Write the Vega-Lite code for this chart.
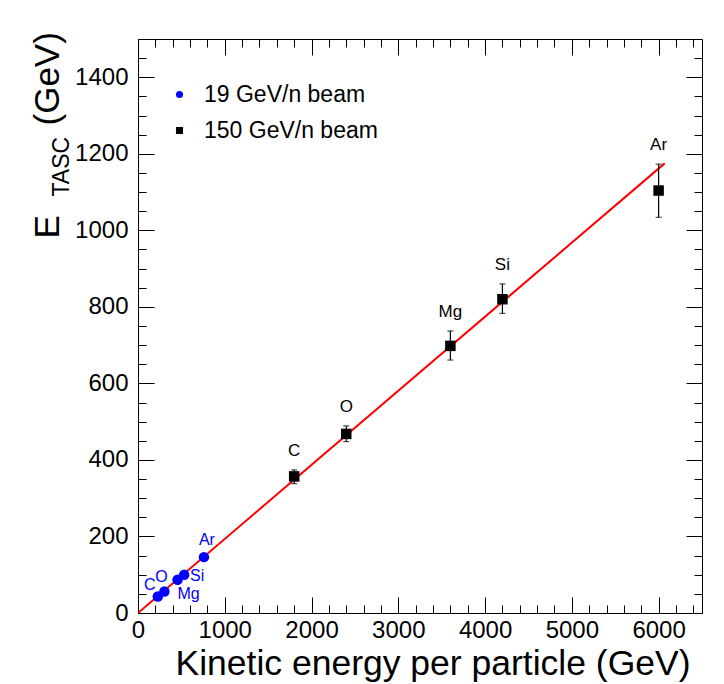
{
  "$schema": "https://vega.github.io/schema/vega-lite/v6.json",
  "width": 564,
  "height": 574,
  "autosize": "none",
  "padding": {"left": 138, "top": 39, "right": 22, "bottom": 71},
  "background": "#ffffff",
  "datasets": {
    "fit": [
      {"energy": 0, "etasc": 0},
      {"energy": 6070, "etasc": 1175}
    ],
    "beams": [
      {"beam": "19 GeV/n beam", "element": "C", "energy": 228, "etasc": 43, "low": null, "high": null},
      {"beam": "19 GeV/n beam", "element": "O", "energy": 304, "etasc": 56, "low": null, "high": null},
      {"beam": "19 GeV/n beam", "element": "Mg", "energy": 456, "etasc": 87, "low": null, "high": null},
      {"beam": "19 GeV/n beam", "element": "Si", "energy": 532, "etasc": 100, "low": null, "high": null},
      {"beam": "19 GeV/n beam", "element": "Ar", "energy": 760, "etasc": 146, "low": null, "high": null},
      {"beam": "150 GeV/n beam", "element": "C", "energy": 1800, "etasc": 357, "low": 338, "high": 374},
      {"beam": "150 GeV/n beam", "element": "O", "energy": 2400, "etasc": 468, "low": 448, "high": 489},
      {"beam": "150 GeV/n beam", "element": "Mg", "energy": 3600, "etasc": 698, "low": 661, "high": 737},
      {"beam": "150 GeV/n beam", "element": "Si", "energy": 4200, "etasc": 820, "low": 783, "high": 860},
      {"beam": "150 GeV/n beam", "element": "Ar", "energy": 6000, "etasc": 1104, "low": 1034, "high": 1173}
    ]
  },
  "layer": [
    {
      "data": {"name": "fit"},
      "mark": {"type": "line", "color": "#ff0000", "strokeWidth": 2, "clip": true},
      "encoding": {
        "x": {"field": "energy", "type": "quantitative", "scale": {"domain": [0, 6500], "nice": false, "zero": false},
          "axis": {"orient": "bottom", "values": [0, 1000, 2000, 3000, 4000, 5000, 6000], "format": "d", "ticks": false,
            "labelFontSize": 24, "labelPadding": 5, "labelOverlap": false, "labelFlush": false,
            "title": "Kinetic energy per particle (GeV)", "titleFontSize": 35.5, "titleX": 552, "titleY": 61,
            "titleAlign": "right", "titleBaseline": "alphabetic"}},
        "y": {"field": "etasc", "type": "quantitative", "scale": {"domain": [0, 1500], "nice": false, "zero": false},
          "axis": {"orient": "left", "values": [0, 200, 400, 600, 800, 1000, 1200, 1400], "format": "d", "ticks": false,
            "labelFontSize": 24, "labelPadding": 10, "labelOverlap": false, "labelFlush": false,
            "title": "E", "titleFontSize": 35, "titleAngle": -90, "titleX": -80, "titleY": 199,
            "titleAlign": "left", "titleBaseline": "alphabetic"}}
      }
    },
    {
      "data": {"name": "beams"},
      "transform": [{"filter": "datum.low != null"}],
      "mark": {"type": "rule", "color": "#000000", "strokeWidth": 1.2},
      "encoding": {
        "x": {"field": "energy", "type": "quantitative",
          "axis": {"orient": "bottom", "values": [0, 1000, 2000, 3000, 4000, 5000, 6000], "labels": false, "tickSize": -16, "tickWidth": 1, "title": null}},
        "y": {"field": "low", "type": "quantitative",
          "axis": {"orient": "left", "values": [0, 200, 400, 600, 800, 1000, 1200, 1400], "labels": false, "tickSize": -16, "tickWidth": 1, "title": null}},
        "y2": {"field": "high"}
      }
    },
    {
      "data": {"name": "beams"},
      "transform": [{"filter": "datum.low != null"}],
      "mark": {"type": "tick", "orient": "horizontal", "color": "#000000", "size": 6, "thickness": 1.2},
      "encoding": {
        "x": {"field": "energy", "type": "quantitative",
          "axis": {"orient": "bottom", "values": [0, 200, 400, 600, 800, 1000, 1200, 1400, 1600, 1800, 2000, 2200, 2400, 2600, 2800, 3000, 3200, 3400, 3600, 3800, 4000, 4200, 4400, 4600, 4800, 5000, 5200, 5400, 5600, 5800, 6000, 6200, 6400], "labels": false, "tickSize": -8, "tickWidth": 1, "title": null}},
        "y": {"field": "high", "type": "quantitative",
          "axis": {"orient": "left", "values": [0, 50, 100, 150, 200, 250, 300, 350, 400, 450, 500, 550, 600, 650, 700, 750, 800, 850, 900, 950, 1000, 1050, 1100, 1150, 1200, 1250, 1300, 1350, 1400, 1450], "labels": false, "tickSize": -8, "tickWidth": 1, "title": null}}
      }
    },
    {
      "data": {"name": "beams"},
      "transform": [{"filter": "datum.low != null"}],
      "mark": {"type": "tick", "orient": "horizontal", "color": "#000000", "size": 6, "thickness": 1.2},
      "encoding": {
        "x": {"field": "energy", "type": "quantitative",
          "axis": {"orient": "top", "values": [0, 1000, 2000, 3000, 4000, 5000, 6000], "labels": false, "tickSize": -16, "tickWidth": 1, "title": null}},
        "y": {"field": "low", "type": "quantitative",
          "axis": {"orient": "right", "values": [0, 200, 400, 600, 800, 1000, 1200, 1400], "labels": false, "tickSize": -16, "tickWidth": 1, "title": null}}
      }
    },
    {
      "data": {"name": "beams"},
      "mark": {"type": "point", "filled": true, "opacity": 1, "size": 110},
      "encoding": {
        "x": {"field": "energy", "type": "quantitative",
          "axis": {"orient": "top", "values": [0, 200, 400, 600, 800, 1000, 1200, 1400, 1600, 1800, 2000, 2200, 2400, 2600, 2800, 3000, 3200, 3400, 3600, 3800, 4000, 4200, 4400, 4600, 4800, 5000, 5200, 5400, 5600, 5800, 6000, 6200, 6400], "labels": false, "tickSize": -8, "tickWidth": 1, "title": null}},
        "y": {"field": "etasc", "type": "quantitative",
          "axis": {"orient": "right", "values": [0, 50, 100, 150, 200, 250, 300, 350, 400, 450, 500, 550, 600, 650, 700, 750, 800, 850, 900, 950, 1000, 1050, 1100, 1150, 1200, 1250, 1300, 1350, 1400, 1450], "labels": false, "tickSize": -8, "tickWidth": 1, "title": null}},
        "color": {"field": "beam", "type": "nominal", "title": null,
          "scale": {"domain": ["19 GeV/n beam", "150 GeV/n beam"], "range": ["#0000ff", "#000000"]}},
        "shape": {"field": "beam", "type": "nominal", "title": null,
          "scale": {"domain": ["19 GeV/n beam", "150 GeV/n beam"], "range": ["circle", "square"]}}
      }
    },
    {
      "data": {"name": "beams"},
      "transform": [{"filter": "datum.beam == '150 GeV/n beam'"}],
      "mark": {"type": "text", "color": "#000000", "fontSize": 17, "align": "center", "baseline": "middle", "dy": -19},
      "encoding": {
        "x": {"field": "energy", "type": "quantitative", "axis": null},
        "y": {"field": "high", "type": "quantitative",
          "axis": {"orient": "left", "labels": false, "ticks": false, "title": "TASC", "titleFontSize": 23,
            "titleAngle": -90, "titleX": -70, "titleY": 157, "titleAlign": "left", "titleBaseline": "alphabetic"}},
        "text": {"field": "element"}
      }
    },
    {
      "data": {"name": "beams"},
      "transform": [{"filter": "datum.beam == '19 GeV/n beam' && datum.element == 'C'"}],
      "mark": {"type": "text", "color": "#0000ff", "fontSize": 16, "align": "center", "baseline": "middle", "dx": -8, "dy": -12},
      "encoding": {
        "x": {"field": "energy", "type": "quantitative", "axis": null},
        "y": {"field": "etasc", "type": "quantitative",
          "axis": {"orient": "left", "labels": false, "ticks": false, "title": "(GeV)", "titleFontSize": 35,
            "titleAngle": -90, "titleX": -80, "titleY": 86, "titleAlign": "left", "titleBaseline": "alphabetic"}},
        "text": {"field": "element"}
      }
    },
    {
      "data": {"name": "beams"},
      "transform": [{"filter": "datum.beam == '19 GeV/n beam' && datum.element == 'O'"}],
      "mark": {"type": "text", "color": "#0000ff", "fontSize": 16, "align": "center", "baseline": "middle", "dx": -3, "dy": -15},
      "encoding": {
        "x": {"field": "energy", "type": "quantitative", "axis": null},
        "y": {"field": "etasc", "type": "quantitative", "axis": null},
        "text": {"field": "element"}
      }
    },
    {
      "data": {"name": "beams"},
      "transform": [{"filter": "datum.beam == '19 GeV/n beam' && datum.element == 'Si'"}],
      "mark": {"type": "text", "color": "#0000ff", "fontSize": 16, "align": "center", "baseline": "middle", "dx": 13, "dy": 1},
      "encoding": {
        "x": {"field": "energy", "type": "quantitative", "axis": null},
        "y": {"field": "etasc", "type": "quantitative", "axis": null},
        "text": {"field": "element"}
      }
    },
    {
      "data": {"name": "beams"},
      "transform": [{"filter": "datum.beam == '19 GeV/n beam' && datum.element == 'Mg'"}],
      "mark": {"type": "text", "color": "#0000ff", "fontSize": 16, "align": "center", "baseline": "middle", "dx": 11, "dy": 14},
      "encoding": {
        "x": {"field": "energy", "type": "quantitative", "axis": null},
        "y": {"field": "etasc", "type": "quantitative", "axis": null},
        "text": {"field": "element"}
      }
    },
    {
      "data": {"name": "beams"},
      "transform": [{"filter": "datum.beam == '19 GeV/n beam' && datum.element == 'Ar'"}],
      "mark": {"type": "text", "color": "#0000ff", "fontSize": 16, "align": "center", "baseline": "middle", "dx": 3, "dy": -17},
      "encoding": {
        "x": {"field": "energy", "type": "quantitative", "axis": null},
        "y": {"field": "etasc", "type": "quantitative", "axis": null},
        "text": {"field": "element"}
      }
    }
  ],
  "resolve": {
    "scale": {"x": "shared", "y": "shared"},
    "axis": {"x": "independent", "y": "independent"}
  },
  "config": {
    "font": "Liberation Sans",
    "view": {"stroke": "#000000", "strokeWidth": 1},
    "axis": {
      "grid": false, "domain": false,
      "labelColor": "#000000", "labelFont": "Liberation Sans",
      "titleColor": "#000000", "titleFont": "Liberation Sans", "titleFontWeight": "normal",
      "tickColor": "#000000"
    },
    "legend": {
      "orient": "none", "legendX": 30, "legendY": 44, "padding": 0,
      "labelFontSize": 23, "labelFont": "Liberation Sans", "labelColor": "#000000", "labelLimit": 400,
      "labelOffset": 13, "rowPadding": 12, "symbolSize": 50, "symbolStrokeWidth": 0
    }
  }
}
